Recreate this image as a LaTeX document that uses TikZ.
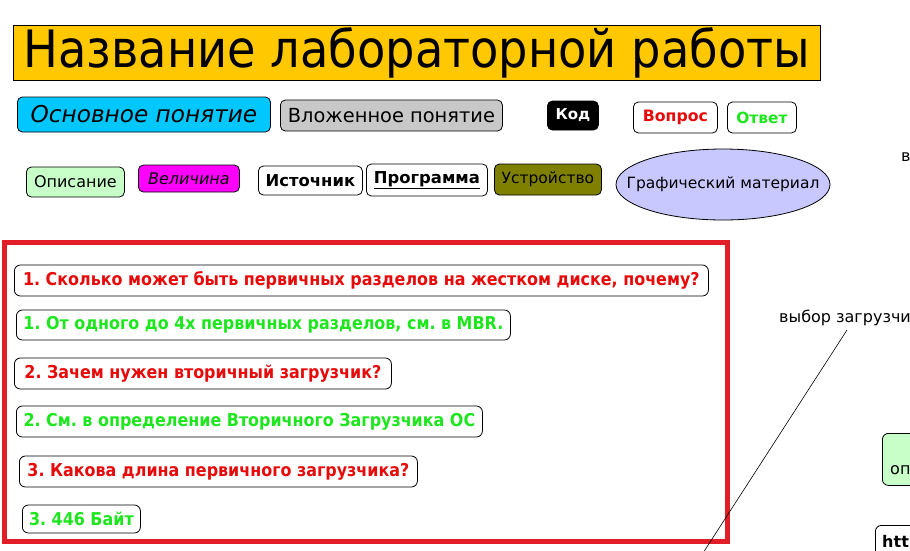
\documentclass[tikz,border=0pt]{standalone}
\usepackage{fontspec}
\setmainfont{DejaVu Sans}
\newfontfamily\condfont{DejaVu Sans Condensed}
\usetikzlibrary{positioning,shapes.geometric}
\frenchspacing

\definecolor{titleyellow}{RGB}{255,200,0}
\definecolor{basecyan}{RGB}{0,200,255}
\definecolor{nestgray}{RGB}{200,200,200}
\definecolor{descgreen}{RGB}{200,255,200}
\definecolor{valmagenta}{RGB}{255,0,255}
\definecolor{devolive}{RGB}{128,128,0}
\definecolor{graphlav}{RGB}{200,200,255}
\definecolor{qred}{RGB}{230,10,10}
\definecolor{agreen}{RGB}{30,230,30}
\definecolor{framered}{RGB}{225,30,40}

\begin{document}
\begin{tikzpicture}[x=1pt, y=-1pt,
  tag/.style={draw, rounded corners=5pt, line width=0.8pt, inner xsep=0pt, inner ysep=0pt, anchor=west, font=\fontsize{16}{18}\selectfont},
  qa/.style={draw, rounded corners=6pt, line width=0.8pt, inner xsep=0pt, inner ysep=0pt, anchor=west, minimum height=31pt, font=\condfont\bfseries\fontsize{17.7}{20}\selectfont},
  ask/.style={qa, text=qred},
  reply/.style={qa, text=agreen}
]
\useasboundingbox (0,0) rectangle (910,550);
\clip (0,0) rectangle (910,550);

% legend
\node[draw, fill=titleyellow, line width=0.8pt, anchor=west, minimum width=807pt, minimum height=55pt, inner sep=0pt, font=\condfont\fontsize{51.5}{56}\selectfont] (title) at (13,52.5) {Название лабораторной работы};

\node[tag, fill=basecyan, minimum width=253pt, minimum height=35pt, font=\itshape\fontsize{23.2}{26}\selectfont] (basic) at (17,114.5) {Основное понятие};
\node[tag, fill=nestgray, minimum width=222pt, minimum height=31pt, font=\fontsize{19.4}{22}\selectfont] (nested) at (280,115.5) {Вложенное понятие};
\node[tag, fill=black, text=white, minimum width=51pt, minimum height=29pt, font=\bfseries\fontsize{15}{17}\selectfont] (code) at (547,115.5) {Код};
\node[tag, text=qred, minimum width=84pt, minimum height=31pt, font=\bfseries\fontsize{15.7}{18}\selectfont] (question) at (633,117.5) {Вопрос};
\node[tag, text=agreen, minimum width=69pt, minimum height=31pt, font=\bfseries\fontsize{15.4}{18}\selectfont] (answer) at (727,117.5) {Ответ};

\node[tag, fill=descgreen, minimum width=98pt, minimum height=30pt] (descr) at (26,182) {Описание};
\node[tag, fill=valmagenta, minimum width=101pt, minimum height=27pt, font=\itshape\fontsize{16}{18}\selectfont] (value) at (138,178.5) {Величина};
\node[tag, minimum width=104pt, minimum height=29pt, font=\bfseries\fontsize{16.4}{18}\selectfont] (source) at (258,180.5) {Источник};
\node[tag, minimum width=121pt, minimum height=32pt, font=\bfseries\fontsize{16.4}{18}\selectfont] (program) at (366,180) {\underline{Программа}};
\node[tag, fill=devolive, minimum width=107pt, minimum height=31pt, font=\fontsize{15.5}{18}\selectfont] (device) at (494,179.5) {Устройство};
\node[draw, ellipse, fill=graphlav, line width=0.8pt, minimum width=214pt, minimum height=71pt, inner sep=0pt, font=\fontsize{15.5}{17}\selectfont] (graphic) at (723,184.5) {\makebox[120pt]{Графический материал}};

\node[anchor=west, inner sep=0pt, font=\fontsize{16}{18}\selectfont] (vfrag) at (901,157) {в};

% questions
\draw[framered, line width=5pt] (4,242) rectangle (727,541);

\node[ask, minimum width=694pt] (q1) at (14,280.5) {1. Сколько может быть первичных разделов на жестком диске, почему?};
\node[reply, minimum width=494pt, minimum height=30pt] (a1) at (16,325) {1. От одного до 4х первичных разделов, см. в MBR.};
\node[ask, minimum width=377pt] (q2) at (14,373.5) {2. Зачем нужен вторичный загрузчик?};
\node[reply, minimum width=466pt] (a2) at (16,421.5) {2. См. в определение Вторичного Загрузчика ОС};
\node[ask, minimum width=398pt] (q3) at (19,471.5) {3. Какова длина первичного загрузчика?};
\node[reply, minimum width=118pt, minimum height=28pt] (a3) at (22,519) {3. 446 Байт};

% right edge
\node[anchor=west, inner sep=0pt, font=\fontsize{16}{18}\selectfont] (boot) at (779,318) {выбор загрузчи};
\coordinate (bootfoot) at (847,330);
\coordinate (bootend) at (692,570);
\draw[line width=0.6pt] (bootfoot) -- (bootend);

\node[draw, rounded corners=6pt, fill=descgreen, line width=0.8pt, anchor=north west, minimum width=60pt, minimum height=52pt] (descpart) at (882,433) {};
\node[anchor=base west, inner sep=0pt, font=\fontsize{16}{18}\selectfont] (descfrag) at (890,474) {оп};
\node[draw, rounded corners=6pt, line width=0.8pt, anchor=north west, minimum width=60pt, minimum height=40pt] (linkpart) at (875,525) {};
\node[anchor=base west, inner sep=0pt, font=\bfseries\fontsize{16}{18}\selectfont] (linkfrag) at (882,547) {http};
\end{tikzpicture}
\end{document}
